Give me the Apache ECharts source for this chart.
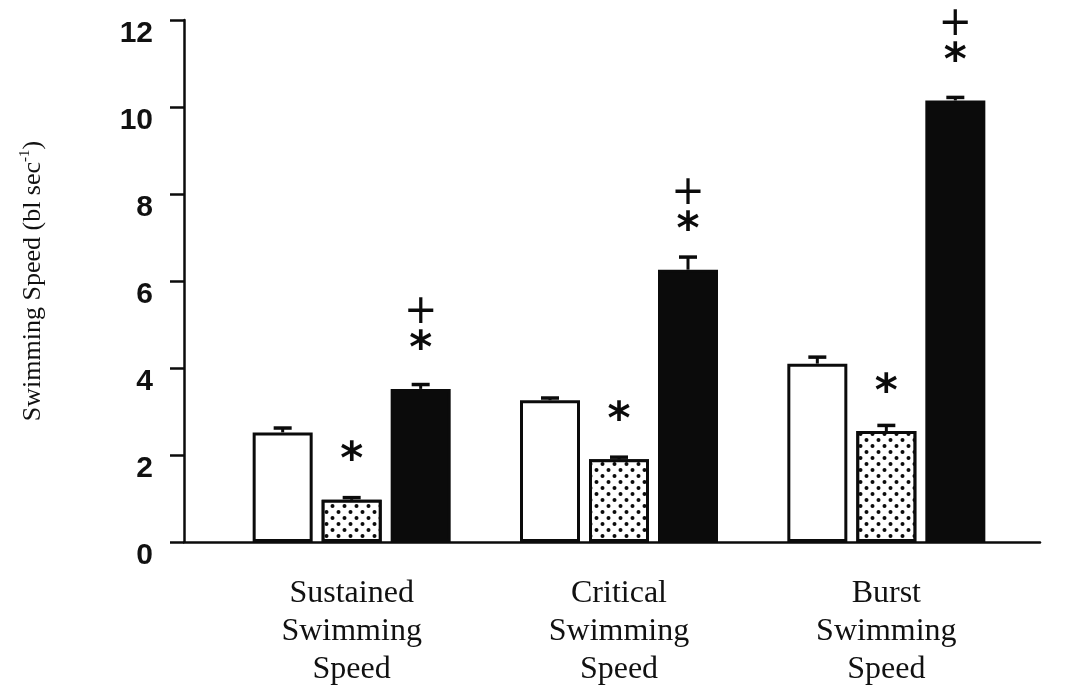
<!DOCTYPE html>
<html>
<head>
<meta charset="utf-8">
<script src="https://cdn.jsdelivr.net/npm/echarts@6/dist/echarts.min.js"></script>
<style>
html,body{margin:0;padding:0;background:#fff;}
#chart{width:1065px;height:694px;}
</style>
</head>
<body>
<div id="chart"></div>
<script>
// ---- data ----
var categories = ['Sustained\nSwimming\nSpeed', 'Critical\nSwimming\nSpeed', 'Burst\nSwimming\nSpeed'];
var whiteValues  = [2.52, 3.26, 4.10];
var whiteErrTop  = [2.62, 3.31, 4.25];
var dottedValues = [0.97, 1.90, 2.55];
var dottedErrTop = [1.02, 1.95, 2.68];
var blackValues  = [3.52, 6.26, 10.15];
var blackErrTop  = [3.62, 6.55, 10.22];
var dottedMarks  = ['*', '*', '*'];
var blackMarks   = ['+', '+', '+'];
var yTicks = [0, 2, 4, 6, 8, 10, 12];

// ---- layout ----
var BAR_W = 60;
var GAP_PX = 9;
var INK = '#0b0b0b';

var chart = echarts.init(document.getElementById('chart'), null, {renderer: 'canvas'});

function errSeries(vals, tops, slot) {
  return {
    type: 'custom',
    xAxisIndex: 0, yAxisIndex: 0,
    z: 5,
    data: vals.map(function (v, i) { return [i, v, tops[i]]; }),
    renderItem: function (params, api) {
      var base = api.coord([api.value(0), api.value(1)]);
      var top = api.coord([api.value(0), api.value(2)]);
      var x = base[0] + slot * (BAR_W + GAP_PX);
      return {
        type: 'group',
        children: [
          {type: 'line', shape: {x1: x, y1: base[1], x2: x, y2: top[1]}, style: {stroke: INK, lineWidth: 3}},
          {type: 'line', shape: {x1: x - 9, y1: top[1], x2: x + 9, y2: top[1]}, style: {stroke: INK, lineWidth: 3.5}}
        ]
      };
    }
  };
}

var starStyle = {fontFamily: 'DejaVu Sans', fontWeight: 'bold', fontSize: 44, color: INK, lineHeight: 32};
var plusStyle = {fontFamily: 'DejaVu Sans', fontSize: 40, color: INK, lineHeight: 44};

var option = {
  backgroundColor: '#ffffff',
  animation: false,
  grid: [
    {left: 218, right: 45, top: 20, bottom: 152},
    {left: 184, right: 25, top: 20, bottom: 152}
  ],
  xAxis: [
    {
      type: 'category', gridIndex: 0, data: categories,
      axisLine: {show: false}, axisTick: {show: false},
      axisLabel: {
        margin: 33, fontFamily: 'Liberation Serif', fontSize: 32, lineHeight: 38,
        color: '#111', interval: 0
      }
    },
    {
      type: 'value', gridIndex: 1, min: 0, max: 1,
      axisLine: {show: true, lineStyle: {color: INK, width: 2.5}},
      axisTick: {show: false}, axisLabel: {show: false}, splitLine: {show: false}
    }
  ],
  yAxis: [
    {
      type: 'value', gridIndex: 0, min: 0, max: 12, interval: 2, offset: 34,
      axisLine: {show: true, lineStyle: {color: INK, width: 2.5}},
      axisTick: {show: true, inside: false, length: 14, lineStyle: {color: INK, width: 2.5}},
      splitLine: {show: false},
      axisLabel: {
        margin: 31, fontFamily: 'Liberation Sans', fontWeight: 'bold', fontSize: 30,
        color: '#111', verticalAlign: 'top', lineHeight: 28,
        formatter: function (v) { return yTicks.indexOf(v) >= 0 ? String(v) : ''; }
      },
      name: '{t|Swimming Speed (bl sec}{s|-1}{t|)}',
      nameLocation: 'middle', nameRotate: 90, nameGap: 136,
      nameTextStyle: {
        rich: {
          t: {fontFamily: 'Liberation Serif', fontSize: 26, color: '#111', lineHeight: 30},
          s: {fontFamily: 'Liberation Serif', fontSize: 15, color: '#111', lineHeight: 15, verticalAlign: 'top', padding: [0, 0, 10, 0]}
        }
      }
    },
    {type: 'value', gridIndex: 1, min: 0, max: 1, show: false}
  ],
  series: [
    {
      type: 'bar', name: 'white', xAxisIndex: 0, yAxisIndex: 0,
      data: whiteValues, barWidth: BAR_W, barGap: (GAP_PX / BAR_W * 100) + '%',
      itemStyle: {color: '#ffffff', borderColor: INK, borderWidth: 3}
    },
    {
      type: 'bar', name: 'dotted', xAxisIndex: 0, yAxisIndex: 0,
      data: dottedValues, barWidth: BAR_W, barGap: (GAP_PX / BAR_W * 100) + '%',
      itemStyle: {
        color: '#ffffff', borderColor: INK, borderWidth: 3,
        decal: {
          symbol: 'circle', symbolSize: 1, color: INK, backgroundColor: '#ffffff',
          dashArrayX: [[5, 7], [0, 6, 5, 1]], dashArrayY: [4, 2], rotation: 0
        }
      },
      label: {
        show: true, position: 'top', distance: 22,
        formatter: function (p) { return '{s|' + dottedMarks[p.dataIndex] + '}'; },
        rich: {s: starStyle}
      }
    },
    {
      type: 'bar', name: 'black', xAxisIndex: 0, yAxisIndex: 0,
      data: blackValues, barWidth: BAR_W, barGap: (GAP_PX / BAR_W * 100) + '%',
      itemStyle: {color: INK, borderColor: INK, borderWidth: 3},
      label: {
        show: true, position: 'top', distance: 22,
        formatter: function (p) { return '{p|' + blackMarks[p.dataIndex] + '}\n{s|' + dottedMarks[p.dataIndex] + '}'; },
        rich: {p: plusStyle, s: starStyle}
      }
    },
    errSeries(whiteValues, whiteErrTop, -1),
    errSeries(dottedValues, dottedErrTop, 0),
    errSeries(blackValues, blackErrTop, 1)
  ]
};
chart.setOption(option);
</script>
</body>
</html>
